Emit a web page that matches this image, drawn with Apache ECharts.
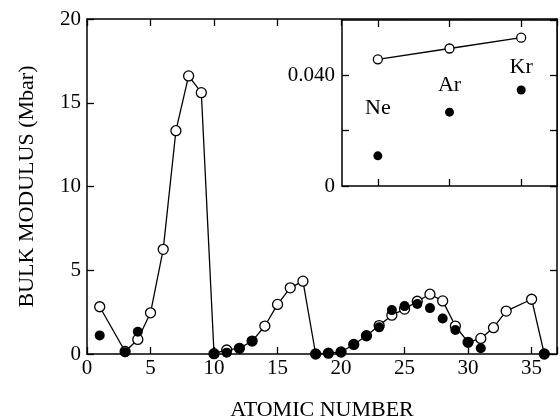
<!DOCTYPE html>
<html>
<head>
<meta charset="utf-8">
<script src="https://cdn.jsdelivr.net/npm/echarts@6/dist/echarts.min.js"></script>
<style>
  html, body { margin: 0; padding: 0; background: #fff; }
  #chart { width: 560px; height: 418px; }
</style>
</head>
<body>
<div id="chart"></div>
<script>
// main panel: open circles (joined by a line) and filled circles
const openZ = [1, 3, 4, 5, 6, 7, 8, 9, 10, 11, 12, 13, 14, 15, 16, 17, 18, 19, 20, 21, 22, 23, 24, 25, 26, 27, 28, 29, 30, 31, 32, 33, 35, 36];
const openB = [2.82, 0.15, 0.87, 2.46, 6.25, 13.33, 16.6, 15.6, 0.02, 0.24, 0.34, 0.77, 1.67, 2.96, 3.95, 4.35, 0.0, 0.05, 0.12, 0.57, 1.09, 1.7, 2.32, 2.68, 3.15, 3.57, 3.17, 1.67, 0.7, 0.93, 1.57, 2.56, 3.27, 0.0];
const filledZ = [1, 3, 4, 10, 11, 12, 13, 18, 19, 20, 21, 22, 23, 24, 25, 26, 27, 28, 29, 30, 31, 36];
const filledB = [1.11, 0.1, 1.33, 0.0, 0.08, 0.34, 0.77, 0.0, 0.05, 0.12, 0.57, 1.09, 1.59, 2.62, 2.86, 2.98, 2.74, 2.12, 1.43, 0.7, 0.34, 0.0];
const xTicks = [0, 5, 10, 15, 20, 25, 30, 35];
const yTicks = [0, 5, 10, 15, 20];

// inset: rare gases
const gases = ['Ne', 'Ar', 'Kr'];
const gasOpen = [0.0458, 0.0497, 0.0536];
const gasFilled = [0.0109, 0.0267, 0.0347];
const insetLabels = ['0', '0.040'];

const font = 'Liberation Serif';
const black = '#000';
const gasLabelLift = [-48, -27, -23];

const pairs = (xs, ys) => xs.map((x, i) => [x, ys[i]]);

const inTick = { show: true, inside: true, length: 7, lineStyle: { color: black, width: 1.3 } };
const line = { show: true, onZero: false, lineStyle: { color: black, width: 1.5 } };

const option = {
  backgroundColor: '#fff',
  animation: false,
  grid: [
    { left: 87, top: 19, right: 3, bottom: 64, outerBoundsMode: 'none' },
    { left: 342, top: 20, right: 3, bottom: 232, outerBoundsMode: 'none', show: true, backgroundColor: '#fff', borderWidth: 0, z: 5 }
  ],
  xAxis: [
    {
      gridIndex: 0, type: 'value', min: 0, max: 37, interval: 5,
      name: 'ATOMIC NUMBER', nameLocation: 'middle', nameGap: 45,
      nameTextStyle: { fontFamily: font, fontSize: 22, color: black },
      axisLine: line, axisTick: inTick, splitLine: { show: false },
      axisLabel: {
        fontFamily: font, fontSize: 21, color: black, margin: 4,
        formatter: v => (xTicks.indexOf(v) >= 0 ? String(v) : '')
      }
    },
    {
      gridIndex: 0, type: 'value', position: 'top', min: 0, max: 37, interval: 5,
      axisLine: line, axisTick: inTick, axisLabel: { show: false }, splitLine: { show: false }
    },
    {
      gridIndex: 1, type: 'category', data: gases, z: 6,
      axisLine: line, axisTick: Object.assign({ alignWithLabel: true }, inTick),
      axisLabel: { show: false }, splitLine: { show: false }
    },
    {
      gridIndex: 1, type: 'category', data: gases, position: 'top', z: 6,
      axisLine: line, axisTick: Object.assign({ alignWithLabel: true }, inTick),
      axisLabel: { show: false }, splitLine: { show: false }
    }
  ],
  yAxis: [
    {
      gridIndex: 0, type: 'value', min: 0, max: 20, interval: 5,
      name: 'BULK MODULUS (Mbar)', nameLocation: 'middle', nameGap: 49, nameRotate: 90,
      nameTextStyle: { fontFamily: font, fontSize: 22, color: black },
      axisLine: line, axisTick: inTick, splitLine: { show: false },
      axisLabel: {
        fontFamily: font, fontSize: 21, color: black, margin: 6,
        formatter: v => (yTicks.indexOf(v) >= 0 ? String(v) : '')
      }
    },
    {
      gridIndex: 0, type: 'value', position: 'right', min: 0, max: 20, interval: 5,
      axisLine: line, axisTick: inTick, axisLabel: { show: false }, splitLine: { show: false }
    },
    {
      gridIndex: 1, type: 'value', min: 0, max: 0.06, interval: 0.02, z: 6,
      axisLine: line, axisTick: inTick, splitLine: { show: false },
      axisLabel: {
        fontFamily: font, fontSize: 21, color: black, margin: 7, showMaxLabel: false,
        formatter: v => {
          const t = Number(v.toFixed(3));
          if (t === 0) return insetLabels[0];
          if (t === 0.04) return insetLabels[1];
          return '';
        }
      }
    },
    {
      gridIndex: 1, type: 'value', position: 'right', min: 0, max: 0.06, interval: 0.02, z: 6,
      axisLine: line, axisTick: inTick, axisLabel: { show: false }, splitLine: { show: false }
    }
  ],
  series: [
    {
      type: 'line', xAxisIndex: 0, yAxisIndex: 0, z: 2,
      data: pairs(openZ, openB),
      symbol: 'circle', symbolSize: 10, showAllSymbol: true,
      lineStyle: { color: black, width: 1.3 },
      itemStyle: { color: '#fff', borderColor: black, borderWidth: 1.3, opacity: 1 }
    },
    {
      type: 'scatter', xAxisIndex: 0, yAxisIndex: 0, z: 3,
      data: pairs(filledZ, filledB),
      symbol: 'circle', symbolSize: 10,
      itemStyle: { color: black, opacity: 1 }
    },
    {
      type: 'line', xAxisIndex: 2, yAxisIndex: 2, z: 8,
      data: gasOpen,
      symbol: 'circle', symbolSize: 9, showAllSymbol: true,
      lineStyle: { color: black, width: 1.3 },
      itemStyle: { color: '#fff', borderColor: black, borderWidth: 1.3, opacity: 1 }
    },
    {
      type: 'scatter', xAxisIndex: 2, yAxisIndex: 2, z: 8,
      data: gasFilled.map((v, i) => ({
        value: v,
        label: {
          show: true, position: 'inside', offset: [0, gasLabelLift[i]],
          formatter: gases[i], fontFamily: font, fontSize: 22, color: black
        }
      })),
      symbol: 'circle', symbolSize: 9,
      itemStyle: { color: black, opacity: 1 }
    }
  ]
};

const chart = echarts.init(document.getElementById('chart'));
chart.setOption(option);
</script>
</body>
</html>
